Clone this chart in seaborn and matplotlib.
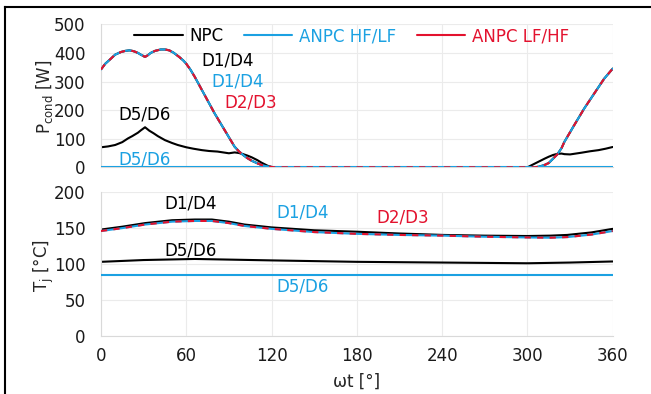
import matplotlib
matplotlib.use("Agg")
import matplotlib.pyplot as plt
from matplotlib.lines import Line2D
import pandas as pd
import seaborn as sns

# ---------------- data ----------------
# conduction losses [W] versus phase angle [deg]
p_d14_deg = [0, 3, 7, 10, 14, 17, 20, 23, 26, 28, 31, 33, 35, 38, 42, 45, 48, 51, 55,
             58, 60, 63, 66, 73, 80, 87, 94, 97, 100, 103, 106, 110, 113, 116, 119, 122,
             300, 305, 308, 312, 315, 317, 319, 321, 324, 326, 333, 340, 347, 354, 360]
p_npc_d14 = [342, 362, 380, 394, 403, 407, 409, 406, 400, 394, 386, 392, 400, 407, 412,
             412, 409, 401, 386, 373, 362, 341, 316, 252, 188, 130, 72, 56, 43, 32, 23,
             14, 8, 4, 2, 0,
             0, 0, 2, 8, 15, 25, 35, 45, 67, 89, 148, 206, 258, 310, 345]
p_anpc_hflf_d14 = list(p_npc_d14)
p_anpc_lfhf_d23 = list(p_npc_d14)

p_d56_deg = [0, 5, 10, 15, 19, 22, 26, 28, 31, 34, 37, 40, 45, 50, 54, 60, 65, 71, 76,
             82, 86, 90, 94, 97, 100, 103, 106, 110, 113, 117, 120,
             300, 304, 308, 312, 315, 318, 321, 324, 326, 330, 334, 338, 344, 350, 355, 360]
p_npc_d56 = [70, 73, 78, 88, 101, 109, 121, 129, 140, 128, 119, 109, 95, 85, 78, 70, 65,
             60, 57, 55, 52, 49, 52, 50, 46, 41, 35, 25, 16, 6, 0,
             0, 10, 20, 30, 37, 43, 47, 48, 46, 45, 48, 51, 56, 60, 65, 71]
p_anpc_d56_deg = [0, 360]
p_anpc_d56 = [0, 0]

# junction temperatures [degC] versus phase angle [deg]
t_deg = [0, 15, 31, 50, 66, 78, 90, 101, 120, 150, 180, 210, 241, 270, 300, 316,
         328, 345, 360]
t_npc_d14 = [148, 152, 157, 161, 162, 162, 159, 155, 151, 147, 145, 142.5, 140.5,
             139.5, 139, 139.5, 140.5, 144, 149]
t_anpc_d14 = [146, 150, 155, 159, 160, 160, 157, 153, 149, 144.5, 142, 140.5, 139.5,
              138, 137, 136.6, 137.5, 141, 146]
t_anpc_d23 = list(t_anpc_d14)

t56_deg = [0, 30, 66, 120, 180, 240, 300, 330, 360]
t_npc_d56 = [103, 105.5, 107, 105, 103, 102, 101, 102, 103.5]
t_anpc_d56_deg = [0, 360]
t_anpc_d56 = [85, 85]

x_ticks = [0, 60, 120, 180, 240, 300, 360]
p_ticks = [0, 100, 200, 300, 400, 500]
t_ticks = [0, 50, 100, 150, 200]
legend_labels = ["NPC", "ANPC HF/LF", "ANPC LF/HF"]

BLACK = "#000000"
BLUE = "#1BA1E2"
RED = "#E3122E"

# ---------------- style ----------------
sns.set_theme(style="white")
plt.rcParams["font.family"] = ["DejaVu Sans"]
plt.rcParams["font.size"] = 12

fig = plt.figure(figsize=(6.51, 3.94), dpi=100)
ax1 = fig.add_axes([0.1551, 0.5754, 0.7861, 0.3629])
ax2 = fig.add_axes([0.1551, 0.1480, 0.7861, 0.3640])

# left and top edges of the outer frame
fx = 4.5 / 651
fy = 1 - 6.5 / 394
fig.add_artist(Line2D([fx, fx], [0, fy], transform=fig.transFigure,
                      color="black", linewidth=1.5, solid_capstyle="projecting"))
fig.add_artist(Line2D([fx, 1], [fy, fy], transform=fig.transFigure,
                      color="black", linewidth=1.5, solid_capstyle="projecting"))


def draw(ax, xs, ys, color, dashed=False, z=2):
    df = pd.DataFrame({"x": xs, "y": ys})
    sns.lineplot(data=df, x="x", y="y", ax=ax, color=color, linewidth=1.5,
                 estimator=None, sort=False, zorder=z,
                 linestyle=(0, (3, 3)) if dashed else "-")


# top panel: conduction losses
draw(ax1, p_d14_deg, p_npc_d14, BLACK, z=2)
draw(ax1, p_d56_deg, p_npc_d56, BLACK, z=2)
draw(ax1, p_d14_deg, p_anpc_hflf_d14, BLUE, z=3)
draw(ax1, p_anpc_d56_deg, p_anpc_d56, BLUE, z=3)
draw(ax1, p_d14_deg, p_anpc_lfhf_d23, RED, dashed=True, z=4)

# bottom panel: junction temperatures
draw(ax2, t_deg, t_npc_d14, BLACK, z=2)
draw(ax2, t56_deg, t_npc_d56, BLACK, z=2)
draw(ax2, t_deg, t_anpc_d14, BLUE, z=3)
draw(ax2, t_anpc_d56_deg, t_anpc_d56, BLUE, z=3)
draw(ax2, t_deg, t_anpc_d23, RED, dashed=True, z=4)

for ax, yt in ((ax1, p_ticks), (ax2, t_ticks)):
    ax.set_xlim(0, 360)
    ax.set_ylim(yt[0], yt[-1])
    ax.set_xticks(x_ticks)
    ax.set_yticks(yt)
    ax.grid(True, color="#EBEBEB", linewidth=0.8)
    ax.set_axisbelow(True)
    for s in ("top", "right"):
        ax.spines[s].set_visible(False)
    for s in ("left", "bottom"):
        ax.spines[s].set_color("#D9D9D9")
        ax.spines[s].set_linewidth(0.8)
    ax.tick_params(axis="both", length=0, labelsize=12, colors="#1A1A1A")
    ax.tick_params(axis="y", pad=11)
    ax.tick_params(axis="x", pad=8)
    ax.set_xlabel("")
    ax.set_ylabel("")

ax1.tick_params(axis="x", labelbottom=False)

ax1.set_ylabel(r"P$_{\mathrm{cond}}$ [W]", fontsize=12, va="center")
ax1.yaxis.set_label_coords(-0.111, 0.49)
ax2.set_ylabel(r"T$_{\mathrm{j}}$ [°C]", fontsize=12, va="center")
ax2.yaxis.set_label_coords(-0.111, 0.49)
ax2.set_xlabel("ωt [°]", fontsize=12, va="center")
ax2.xaxis.set_label_coords(0.5, -0.32)

# series labels
ax1.text(89, 375, "D1/D4", color=BLACK, ha="center", va="center", fontsize=12)
ax1.text(96, 301, "D1/D4", color=BLUE, ha="center", va="center", fontsize=12)
ax1.text(105, 228, "D2/D3", color=RED, ha="center", va="center", fontsize=12)
ax1.text(31, 183, "D5/D6", color=BLACK, ha="center", va="center", fontsize=12)
ax1.text(31, 28, "D5/D6", color=BLUE, ha="center", va="center", fontsize=12)

ax2.text(63, 184, "D1/D4", color=BLACK, ha="center", va="center", fontsize=12)
ax2.text(142, 172, "D1/D4", color=BLUE, ha="center", va="center", fontsize=12)
ax2.text(212, 165, "D2/D3", color=RED, ha="center", va="center", fontsize=12)
ax2.text(63, 119, "D5/D6", color=BLACK, ha="center", va="center", fontsize=12)
ax2.text(142, 68, "D5/D6", color=BLUE, ha="center", va="center", fontsize=12)

handles = [Line2D([], [], color=c, linewidth=1.5) for c in (BLACK, BLUE, RED)]
ax1.legend(handles, legend_labels, loc="center", bbox_to_anchor=(0.49, 0.918),
           ncol=3, frameon=False, handlelength=2.9, handletextpad=0.4,
           columnspacing=1.25, labelcolor=[BLACK, BLUE, RED], fontsize=12,
           borderaxespad=0, borderpad=0)

fig.savefig("out.png", dpi=100, facecolor="white")
